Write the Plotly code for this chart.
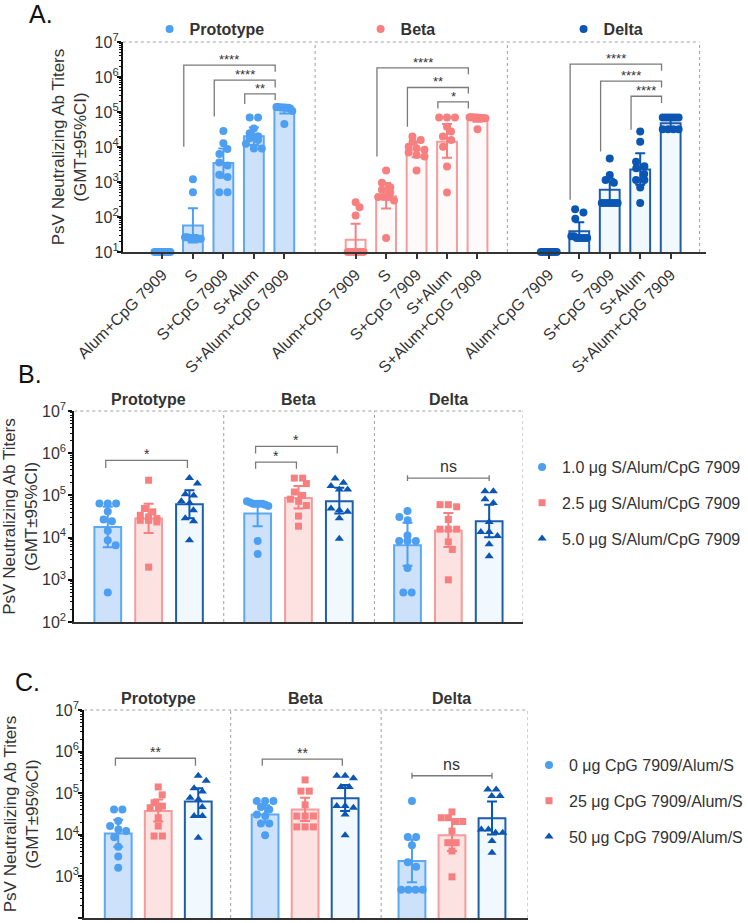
import numpy as np
import plotly.graph_objects as go

W, H = 748, 923

# ===================== DATA (log10 titers) =====================
# ---- Panel A ----
A_strains = ["Prototype", "Beta", "Delta"]
A_categories = ["Alum+CpG 7909", "S", "S+CpG 7909", "S+Alum", "S+Alum+CpG 7909"]

A_proto_points = [
    [1.0, 1.0, 1.0, 1.0, 1.0, 1.0, 1.0, 1.0, 1.0, 1.0],
    [3.08, 2.71, 1.42, 1.42, 1.40, 1.40, 1.40, 1.40, 1.38, 1.38],
    [4.46, 4.11, 3.94, 3.80, 3.56, 3.47, 3.21, 3.14, 2.71, 2.71],
    [4.84, 4.84, 4.53, 4.39, 4.31, 4.25, 4.20, 4.09, 3.96, 3.96],
    [5.14, 5.14, 5.13, 5.13, 5.13, 5.12, 5.12, 5.10, 5.03, 4.66],
]
A_proto_gmt = [1.0, 1.76, 3.54, 4.31, 5.06]
A_proto_lo = [1.0, 1.27, 3.12, 4.06, 4.96]
A_proto_hi = [1.0, 2.25, 3.96, 4.56, 5.15]

A_beta_points = [
    [2.42, 2.28, 2.04, 1.0, 1.0, 1.0, 1.0, 1.0, 1.0, 1.0],
    [3.33, 2.98, 2.85, 2.78, 2.70, 2.57, 2.57, 2.57, 2.47, 1.40],
    [4.30, 4.20, 4.15, 4.01, 3.96, 3.92, 3.84, 3.77, 3.73, 3.33],
    [4.84, 4.84, 4.84, 4.58, 4.44, 4.30, 4.20, 4.01, 3.44, 2.70],
    [4.85, 4.85, 4.84, 4.84, 4.84, 4.83, 4.83, 4.82, 4.82, 4.51],
]
A_beta_gmt = [1.35, 2.59, 3.93, 4.15, 4.79]
A_beta_lo = [0.89, 2.24, 3.71, 3.69, 4.72]
A_beta_hi = [1.81, 2.97, 4.15, 4.66, 4.86]

A_delta_points = [
    [1.0, 1.0, 1.0, 1.0, 1.0, 1.0, 1.0, 1.0, 1.0, 1.0],
    [2.22, 2.13, 1.95, 1.45, 1.45, 1.40, 1.40, 1.40, 1.40, 1.40],
    [3.67, 3.20, 3.06, 2.98, 2.40, 2.40, 2.40, 2.40, 2.40, 2.40],
    [4.44, 4.15, 3.58, 3.45, 3.39, 3.23, 3.06, 3.06, 2.84, 2.40],
    [4.84, 4.84, 4.84, 4.84, 4.84, 4.84, 4.51, 4.51, 4.51, 4.51],
]
A_delta_gmt = [1.0, 1.59, 2.78, 3.36, 4.68]
A_delta_lo = [1.0, 1.36, 2.46, 2.92, 4.51]
A_delta_hi = [1.0, 1.85, 3.09, 3.82, 4.82]

# brackets: (strain index, from bar, to bar, top level, left foot, right foot, label)
A_brackets = [
    (0, 1, 4, 6.34, 4.01, 6.15, "****"),
    (0, 2, 4, 5.91, 4.87, 5.70, "****"),
    (0, 3, 4, 5.52, 5.23, 5.34, "**"),
    (1, 1, 4, 6.26, 3.73, 6.08, "****"),
    (1, 2, 4, 5.70, 4.58, 5.53, "**"),
    (1, 3, 4, 5.29, 5.10, 5.10, "*"),
    (2, 1, 4, 6.37, 2.49, 6.18, "****"),
    (2, 2, 4, 5.88, 3.87, 5.70, "****"),
    (2, 3, 4, 5.45, 4.49, 5.26, "****"),
]

# ---- Panel B ----
B_groups = ["Prototype", "Beta", "Delta"]
B_doses = ["1.0 μg S/Alum/CpG 7909", "2.5 μg S/Alum/CpG 7909", "5.0 μg S/Alum/CpG 7909"]

B_low_points = [
    [4.81, 4.81, 4.81, 4.62, 4.43, 4.39, 4.16, 3.94, 3.82, 2.70],
    [4.86, 4.83, 4.80, 4.80, 4.80, 4.80, 4.78, 4.75, 3.92, 3.61],
    [4.63, 4.49, 4.41, 4.05, 3.92, 3.92, 3.92, 3.28, 2.70, 2.70],
]
B_low_gmt = [4.25, 4.57, 3.82]
B_low_lo = [3.77, 4.27, 3.33]
B_low_hi = [4.73, 4.87, 4.35]

B_mid_points = [
    [5.36, 4.69, 4.61, 4.53, 4.49, 4.45, 4.41, 4.41, 4.37, 3.30],
    [5.41, 5.41, 5.28, 5.08, 5.00, 4.91, 4.86, 4.76, 4.51, 4.27],
    [4.78, 4.78, 4.73, 4.43, 4.20, 4.20, 4.20, 3.90, 3.72, 3.00],
]
B_mid_gmt = [4.45, 4.94, 4.17]
B_mid_lo = [4.11, 4.69, 3.78]
B_mid_hi = [4.80, 5.22, 4.58]

B_high_points = [
    [5.41, 5.28, 5.03, 5.00, 4.86, 4.82, 4.65, 4.46, 4.39, 3.94],
    [5.40, 5.30, 5.22, 5.14, 5.14, 4.69, 4.65, 4.61, 4.46, 3.97],
    [5.10, 5.10, 4.91, 4.82, 4.37, 4.13, 4.13, 4.04, 3.84, 3.56],
]
B_high_gmt = [4.79, 4.86, 4.39]
B_high_lo = [4.46, 4.57, 4.01]
B_high_hi = [5.12, 5.18, 4.78]

B_brackets = [
    (0, 0, 2, 5.83, 5.65, 5.65, "*"),
    (1, 0, 1, 5.79, 5.63, 5.63, "*"),
    (1, 0, 2, 6.16, 5.99, 5.99, "*"),
]
B_spans = [(2, 0, 2, 5.41, "ns")]

# ---- Panel C ----
C_groups = ["Prototype", "Beta", "Delta"]
C_doses = ["0 μg CpG 7909/Alum/S", "25 μg CpG 7909/Alum/S", "50 μg CpG 7909/Alum/S"]

C_low_points = [
    [4.61, 4.61, 4.33, 4.21, 4.13, 4.09, 3.94, 3.71, 3.48, 3.21],
    [4.81, 4.81, 4.81, 4.67, 4.61, 4.49, 4.45, 4.27, 4.27, 3.99],
    [4.81, 3.95, 3.95, 3.75, 3.34, 3.23, 2.68, 2.68, 2.68, 2.68],
]
C_low_gmt = [4.03, 4.49, 3.37]
C_low_lo = [3.71, 4.30, 2.86]
C_low_hi = [4.36, 4.71, 3.89]

C_mid_points = [
    [5.15, 4.96, 4.77, 4.69, 4.65, 4.65, 4.41, 4.21, 3.97, 3.97],
    [5.32, 5.05, 5.05, 4.72, 4.45, 4.45, 4.45, 4.19, 4.19, 4.19],
    [4.55, 4.41, 4.41, 4.32, 4.32, 4.09, 3.81, 3.81, 3.61, 2.99],
]
C_mid_gmt = [4.57, 4.61, 3.99]
C_mid_lo = [4.32, 4.33, 3.61]
C_mid_hi = [4.85, 4.89, 4.37]

C_high_points = [
    [5.42, 5.30, 5.12, 5.04, 4.89, 4.85, 4.67, 4.45, 4.45, 3.93],
    [5.42, 5.42, 5.36, 5.15, 5.15, 4.69, 4.69, 4.65, 4.49, 3.99],
    [5.09, 5.09, 4.93, 4.93, 4.13, 4.13, 4.05, 4.05, 3.85, 3.57],
]
C_high_gmt = [4.80, 4.88, 4.40]
C_high_lo = [4.45, 4.57, 4.01]
C_high_hi = [5.12, 5.20, 4.80]

C_brackets = [
    (0, 0, 2, 5.84, 5.66, 5.66, "**"),
    (1, 0, 2, 5.82, 5.66, 5.66, "**"),
]
C_spans = [(2, 0, 2, 5.42, "ns")]

# ===================== STYLE =====================
FONT = "Liberation Sans, Arial, sans-serif"
TXT = "#333333"
LB, LB_FILL, LB_EDGE = "#4d9ff2", "#cde2fa", "#5ba8f3"
SA, SA_FILL, SA_EDGE = "#f77f7f", "#fde2e2", "#f59b9b"
SA_FILL_A = "#fffafa"
DB, DB_FILL, DB_EDGE = "#0b56b3", "#f2f9fe", "#1d5eac"
BRK = "#7a7a7a"


def px_y(p):
    return 1 - p / H


def px_x(p):
    return p / W


# panel geometry (pixels) and x-layout in data units
PANELS = {
    "A": dict(xd=(124, 713), yd=(252, 42), xr=(-1.30, 17.85), yr=(1, 7), stride=6.34,
              n=5, right=17.63, dividers=[5.01, 11.32], bw=0.65),
    "B": dict(xd=(75, 528), yd=(622, 411), xr=(-0.82, 10.17), yr=(2, 7), stride=3.67,
              n=3, right=10.17, dividers=[2.84, 6.53], bw=0.655),
    "C": dict(xd=(85, 533), yd=(918, 710), xr=(-0.85, 10.24), yr=(2, 7), stride=3.67,
              n=3, right=10.24, dividers=[2.81, 6.57], bw=0.67),
}
AX = {"A": ("x", "y"), "B": ("x2", "y2"), "C": ("x3", "y3")}

for k, p in PANELS.items():
    p["px_unit"] = (p["xd"][1] - p["xd"][0]) / (p["xr"][1] - p["xr"][0])
    p["px_dec"] = (p["yd"][0] - p["yd"][1]) / (p["yr"][1] - p["yr"][0])


def pos(panel, g, i):
    return g * PANELS[panel]["stride"] + i


def swarm(vals, px_unit, px_dec, diam, maxw):
    vals = np.asarray(vals, float)
    order = np.argsort(-vals, kind="stable")
    rows = []
    for idx in order:
        if rows and (vals[rows[-1][0]] - vals[idx]) * px_dec < 0.6 * diam:
            rows[-1].append(idx)
        else:
            rows.append([idx])
    offs = np.zeros(len(vals))
    placed = []
    half = maxw / 2
    for row in rows:
        m = len(row)
        sp = min(diam * 1.05, maxw / (m - 1)) if m > 1 else 0
        base = [(k - (m - 1) / 2) * sp for k in range(m)]
        best = None
        for c in [0, 0.5 * diam, -0.5 * diam, diam, -diam]:
            xs = [b + c for b in base]
            if c != 0 and max(abs(x) for x in xs) > half + 1e-9:
                continue
            pen = 0.0
            for x, r in zip(xs, row):
                y = vals[r] * px_dec
                for (qx, qy) in placed:
                    d = np.hypot(x - qx, y - qy)
                    if d < diam:
                        pen += diam - d
            if best is None or pen < best[0] - 1e-6:
                best = (pen, xs)
        for x, r in zip(best[1], row):
            offs[r] = x / px_unit
            placed.append((x, vals[r] * px_dec))
    return offs


fig = go.Figure()
bar_traces, pt_traces, err_traces, brk_traces = [], [], [], []


def add_series(panel, xs, points, gmt, lo, hi, color, fill, edge, symbol, msize, name,
               legend, legendwidth=None):
    p = PANELS[panel]
    xa, ya = AX[panel]
    bar_px = p["bw"] * p["px_unit"]
    bar_traces.append(go.Bar(
        x=xs, y=[10 ** g if g > 1 else None for g in gmt], width=p["bw"],
        marker=dict(color=fill, line=dict(color=edge, width=2)),
        xaxis=xa, yaxis=ya, showlegend=False, hoverinfo="skip"))
    px_, py_ = [], []
    for x0, vals in zip(xs, points):
        offs = swarm(vals, p["px_unit"], p["px_dec"], 8.0, bar_px * 0.8)
        px_.extend(list(x0 + offs))
        py_.extend([10 ** v for v in vals])
    kw = {}
    if legendwidth is not None:
        kw["legendwidth"] = legendwidth
    pt_traces.append(go.Scatter(
        x=px_, y=py_, mode="markers", cliponaxis=False,
        marker=dict(symbol=symbol, size=msize, color=color, line=dict(width=0)),
        name=name, legend=legend, legendgroup=name, showlegend=True,
        xaxis=xa, yaxis=ya, hoverinfo="skip", **kw))
    ey, ep, em = [], [], []
    for g, l, h in zip(gmt, lo, hi):
        if h > l:
            ey.append(10 ** g)
            ep.append(10 ** h - 10 ** g)
            em.append(10 ** g - 10 ** l)
        else:
            ey.append(None)
            ep.append(0)
            em.append(0)
    err_traces.append(go.Scatter(
        x=xs, y=ey, mode="markers", marker=dict(size=1, color="rgba(0,0,0,0)"),
        error_y=dict(type="data", symmetric=False, array=ep, arrayminus=em,
                     color=color, thickness=2, width=5),
        xaxis=xa, yaxis=ya, showlegend=False, hoverinfo="skip"))


# ---- Panel A series ----
A_series = [
    (A_proto_points, A_proto_gmt, A_proto_lo, A_proto_hi, LB, LB_FILL, LB_EDGE, 166),
    (A_beta_points, A_beta_gmt, A_beta_lo, A_beta_hi, SA, SA_FILL_A, SA_EDGE, 158),
    (A_delta_points, A_delta_gmt, A_delta_lo, A_delta_hi, DB, DB_FILL, DB_EDGE, 60),
]
for g, (pts, gm, lo, hi, col, fill, edge, lw) in enumerate(A_series):
    xs = [pos("A", g, i) for i in range(len(A_categories))]
    add_series("A", xs, pts, gm, lo, hi, col, fill, edge, "circle", 8,
               "<b>" + A_strains[g] + "</b>", "legend", lw)

# ---- Panels B & C series ----
for panel, groups, doses, series in [
    ("B", B_groups, B_doses, [
        (B_low_points, B_low_gmt, B_low_lo, B_low_hi),
        (B_mid_points, B_mid_gmt, B_mid_lo, B_mid_hi),
        (B_high_points, B_high_gmt, B_high_lo, B_high_hi)]),
    ("C", C_groups, C_doses, [
        (C_low_points, C_low_gmt, C_low_lo, C_low_hi),
        (C_mid_points, C_mid_gmt, C_mid_lo, C_mid_hi),
        (C_high_points, C_high_gmt, C_high_lo, C_high_hi)]),
]:
    styles = [(LB, LB_FILL, LB_EDGE, "circle", 8),
              (SA, SA_FILL, SA_EDGE, "square", 7),
              (DB, DB_FILL, DB_EDGE, "triangle-up", 8)]
    leg = "legend2" if panel == "B" else "legend3"
    for d, (pts, gm, lo, hi) in enumerate(series):
        col, fill, edge, sym, ms = styles[d]
        xs = [pos(panel, g, d) for g in range(len(groups))]
        add_series(panel, xs, pts, gm, lo, hi, col, fill, edge, sym, ms, doses[d], leg)

annotations = []
shapes = []


def add_bracket(panel, g, i, j, top, lfoot, rfoot, label, off, star_size, yshift):
    xa, ya = AX[panel]
    x1 = pos(panel, g, i) + off
    x2 = pos(panel, g, j) + off
    brk_traces.append(go.Scatter(
        x=[x1, x1, x2, x2], y=[10 ** lfoot, 10 ** top, 10 ** top, 10 ** rfoot],
        mode="lines", line=dict(color=BRK, width=1.3), cliponaxis=False,
        xaxis=xa, yaxis=ya, showlegend=False, hoverinfo="skip"))
    annotations.append(dict(x=(x1 + x2) / 2, y=top, xref=xa, yref=ya, text=label,
                            showarrow=False, yanchor="bottom", yshift=yshift,
                            font=dict(size=star_size, color=TXT, family=FONT)))


def add_span(panel, g, i, j, level, label):
    xa, ya = AX[panel]
    x1 = pos(panel, g, i)
    x2 = pos(panel, g, j)
    cap = 0.07
    for xx in (x1, x2):
        brk_traces.append(go.Scatter(
            x=[xx, xx], y=[10 ** (level - cap), 10 ** (level + cap)], mode="lines",
            line=dict(color=BRK, width=1.3), xaxis=xa, yaxis=ya, showlegend=False,
            hoverinfo="skip"))
    brk_traces.append(go.Scatter(
        x=[x1, x2], y=[10 ** level, 10 ** level], mode="lines",
        line=dict(color=BRK, width=1.3), xaxis=xa, yaxis=ya, showlegend=False,
        hoverinfo="skip"))
    annotations.append(dict(x=(x1 + x2) / 2, y=level, xref=xa, yref=ya, text=label,
                            showarrow=False, yanchor="bottom", yshift=1,
                            font=dict(size=16, color=TXT, family=FONT)))


for b in A_brackets:
    add_bracket("A", *b, off=-0.3, star_size=13, yshift=-4)
for b in B_brackets:
    add_bracket("B", *b, off=-0.05, star_size=14, yshift=-4)
for s in B_spans:
    add_span("B", *s)
for b in C_brackets:
    add_bracket("C", *b, off=-0.07, star_size=14, yshift=-4)
for s in C_spans:
    add_span("C", *s)

for t in bar_traces + pt_traces + err_traces + brk_traces:
    fig.add_trace(t)

# ---- frame shapes: dotted top/right borders and group dividers ----
for panel, p in PANELS.items():
    xa, ya = AX[panel]
    dot = dict(color="#a0a0a0", width=1, dash="dot")
    shapes.append(dict(type="line", xref=xa, yref=ya + " domain", x0=p["xr"][0], x1=p["right"],
                       y0=1, y1=1, line=dot, layer="below"))
    shapes.append(dict(type="line", xref=xa, yref=ya + " domain", x0=p["right"], x1=p["right"],
                       y0=0, y1=1, line=dot, layer="below"))
    for dv in p["dividers"]:
        shapes.append(dict(type="line", xref=xa, yref=ya + " domain", x0=dv, x1=dv,
                           y0=0, y1=1, line=dot, layer="below"))

# ---- group titles for B and C ----
for panel, groups in [("B", B_groups), ("C", C_groups)]:
    xa, ya = AX[panel]
    for g, name in enumerate(groups):
        annotations.append(dict(x=pos(panel, g, 1), y=1, xref=xa, yref=ya + " domain",
                                text="<b>" + name + "</b>", showarrow=False,
                                yanchor="bottom", yshift=1,
                                font=dict(size=16, color=TXT, family=FONT)))

# ---- panel letters ----
for letter, (lx, ly) in {"A.": (41, 14), "B.": (30, 374), "C.": (28, 682)}.items():
    annotations.append(dict(x=px_x(lx), y=px_y(ly), xref="paper", yref="paper", text=letter,
                            showarrow=False, xanchor="center", yanchor="middle",
                            font=dict(size=25, color="#111111", family=FONT)))


def yaxis_cfg(p, standoff, lab_off):
    lo, hi = p["yr"]
    tv = [10 ** k for k in range(lo, hi + 1)]
    tt = ["10<sup>%d</sup>" % k for k in range(lo, hi + 1)]
    minor_vals = [m * 10 ** k for k in range(lo, hi) for m in range(2, 10)]
    return dict(
        type="log", range=[lo, hi], domain=[px_y(p["yd"][0]), px_y(p["yd"][1])],
        tickmode="array", tickvals=tv, ticktext=tt, ticks="outside", ticklen=4,
        tickwidth=2, tickcolor="#111111", ticklabelstandoff=lab_off,
        minor=dict(tickmode="array", tickvals=minor_vals, ticks="outside", ticklen=2,
                   tickwidth=1, tickcolor="#111111", showgrid=False),
        showline=True, linecolor="#111111", linewidth=2, showgrid=False, zeroline=False,
        tickfont=dict(size=16, color=TXT, family=FONT), automargin=False,
        title=dict(text="PsV Neutralizing Ab Titers<br>(GMT±95%CI)",
                   font=dict(size=17, color=TXT, family=FONT), standoff=standoff),
    )


pA, pB, pC = PANELS["A"], PANELS["B"], PANELS["C"]
A_tickvals = [pos("A", g, i) for g in range(3) for i in range(5)]
A_ticktext = [c for g in range(3) for c in A_categories]

layout = dict(
    width=W, height=H, margin=dict(l=0, r=0, t=0, b=0),
    paper_bgcolor="white", plot_bgcolor="rgba(0,0,0,0)",
    barmode="overlay", font=dict(family=FONT, color=TXT),
    xaxis=dict(domain=[px_x(pA["xd"][0]), px_x(pA["xd"][1])], range=list(pA["xr"]),
               anchor="y", tickmode="array", tickvals=A_tickvals, ticktext=A_ticktext,
               tickangle=-45, ticks="outside", ticklen=5, tickwidth=1.5, tickcolor="#333333",
               showline=True, linecolor="#333333", linewidth=2, showgrid=False,
               zeroline=False, automargin=False,
               tickfont=dict(size=16, color=TXT, family=FONT)),
    yaxis=dict(anchor="x", **yaxis_cfg(pA, 4, -5)),
    xaxis2=dict(domain=[px_x(pB["xd"][0]), px_x(pB["xd"][1])], range=list(pB["xr"]),
                anchor="y2", showticklabels=False, ticks="", showline=True,
                linecolor="#333333", linewidth=2, showgrid=False, zeroline=False,
                automargin=False),
    yaxis2=dict(anchor="x2", **yaxis_cfg(pB, 6, -1)),
    xaxis3=dict(domain=[px_x(pC["xd"][0]), px_x(pC["xd"][1])], range=list(pC["xr"]),
                anchor="y3", showticklabels=False, ticks="", showline=True,
                linecolor="#333333", linewidth=2, showgrid=False, zeroline=False,
                automargin=False),
    yaxis3=dict(anchor="x3", **yaxis_cfg(pC, 12, -4)),
    legend=dict(orientation="h", x=px_x(151), xanchor="left", y=px_y(29), yanchor="middle",
                font=dict(size=16, color=TXT, family=FONT), bgcolor="rgba(0,0,0,0)",
                traceorder="normal"),
    legend2=dict(orientation="v", x=px_x(527), xanchor="left", y=px_y(503), yanchor="middle",
                 font=dict(size=16, color=TXT, family=FONT), bgcolor="rgba(0,0,0,0)",
                 tracegroupgap=12, traceorder="grouped"),
    legend3=dict(orientation="v", x=px_x(534), xanchor="left", y=px_y(801), yanchor="middle",
                 font=dict(size=16, color=TXT, family=FONT), bgcolor="rgba(0,0,0,0)",
                 tracegroupgap=12, traceorder="grouped"),
    annotations=annotations, shapes=shapes, showlegend=True,
)
fig.update_layout(**layout)
fig.write_html("out.html", config={"displayModeBar": False},
               post_script="document.body.style.margin='0px';document.body.style.padding='0px';")
